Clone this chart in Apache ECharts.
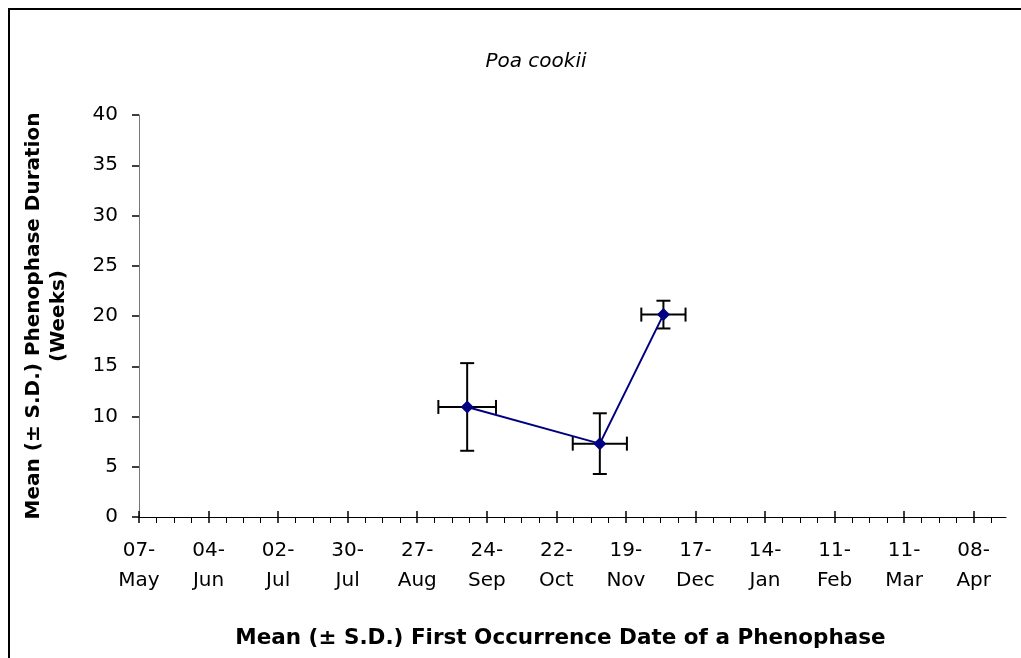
<!DOCTYPE html>
<html>
<head>
<meta charset="utf-8">
<title>Poa cookii</title>
<script src="https://cdn.jsdelivr.net/npm/echarts@6/dist/echarts.min.js"></script>
<style>
  html, body { margin: 0; padding: 0; background: #fff; }
  #chart { width: 1021px; height: 658px; }
</style>
</head>
<body>
<div id="chart"></div>
<script>
// tick labels, one every 28 days from 07-May
const xTickLabels = ['07-\nMay', '04-\nJun', '02-\nJul', '30-\nJul', '27-\nAug', '24-\nSep', '22-\nOct',
    '19-\nNov', '17-\nDec', '14-\nJan', '11-\nFeb', '11-\nMar', '08-\nApr'];
// mean first occurrence, in days after 07-May, and its S.D. (days)
const firstDay = [132.1, 185.5, 211.1];
const firstDaySd = [11.6, 10.9, 8.9];
// mean phenophase duration (weeks) and S.D.
const durationWeeks = [10.95, 7.3, 20.14];
const durationSd = [4.36, 3.02, 1.38];

const FONT = '"DejaVu Sans", Arial, sans-serif';
const DAY_STEP = 28;
const tickDays = xTickLabels.map((l, i) => i * DAY_STEP);

const chart = echarts.init(document.getElementById('chart'));

const points = firstDay.map((d, i) => [d, durationWeeks[i]]);
const errData = firstDay.map((d, i) => [d, durationWeeks[i], firstDaySd[i], durationSd[i]]);

function renderErr(params, api) {
    const x = api.value(0), y = api.value(1), sx = api.value(2), sy = api.value(3);
    const c = api.coord([x, y]);
    const top = api.coord([x, y + sy]);
    const bot = api.coord([x, y - sy]);
    const lft = api.coord([x - sx, y]);
    const rgt = api.coord([x + sx, y]);
    const cap = 7;
    const st = {stroke: '#000', lineWidth: 2};
    const ln = (x1, y1, x2, y2) => ({type: 'line', shape: {x1, y1, x2, y2}, style: st});
    return {
        type: 'group',
        children: [
            ln(c[0], top[1], c[0], bot[1]),
            ln(c[0] - cap, top[1], c[0] + cap, top[1]),
            ln(c[0] - cap, bot[1], c[0] + cap, bot[1]),
            ln(lft[0], c[1], rgt[0], c[1]),
            ln(lft[0], c[1] - cap, lft[0], c[1] + cap),
            ln(rgt[0], c[1] - cap, rgt[0], c[1] + cap)
        ]
    };
}

const xCommon = {
    type: 'value',
    min: 0,
    max: 349,
    interval: DAY_STEP,
    splitLine: {show: false}
};

chart.setOption({
    animation: false,
    title: {
        text: 'Poa cookii',
        left: 531,
        top: 47,
        textAlign: 'center',
        textStyle: {fontFamily: FONT, fontSize: 20, fontStyle: 'italic', fontWeight: 'normal', color: '#000'}
    },
    graphic: [{
        type: 'rect',
        shape: {x: 9, y: 9, width: 1100, height: 1000},
        style: {fill: 'none', stroke: '#000', lineWidth: 2},
        silent: true
    }],
    grid: {left: 139, right: 15, top: 115, bottom: 141},
    xAxis: [
        Object.assign({}, xCommon, {
            name: 'Mean (± S.D.) First Occurrence Date of a Phenophase',
            nameLocation: 'middle',
            nameGap: 110,
            nameTextStyle: {fontFamily: FONT, fontSize: 21.5, fontWeight: 'bold', color: '#000', padding: [0, 24, 0, 0]},
            axisLine: {lineStyle: {color: '#000', width: 1}},
            axisTick: {show: true, length: 6, customValues: tickDays, lineStyle: {color: '#000', width: 1.5}},
            minorTick: {show: true, splitNumber: 4, length: 6, lineStyle: {color: '#000', width: 1}},
            axisLabel: {
                fontFamily: FONT, fontSize: 20, color: '#000', lineHeight: 30, margin: 19,
                customValues: tickDays,
                formatter: v => xTickLabels[Math.round(v / DAY_STEP)] || ''
            }
        }),
        Object.assign({}, xCommon, {
            position: 'bottom',
            axisLine: {show: false},
            axisTick: {show: true, inside: true, length: 6, customValues: tickDays, lineStyle: {color: '#000', width: 1.5}},
            axisLabel: {show: false}
        })
    ],
    yAxis: {
        type: 'value',
        min: 0,
        max: 40,
        interval: 5,
        name: 'Mean (± S.D.) Phenophase Duration\n(Weeks)',
        nameLocation: 'middle',
        nameGap: 68,
        nameRotate: 90,
        nameTextStyle: {fontFamily: FONT, fontSize: 20, fontWeight: 'bold', color: '#000', lineHeight: 25},
        splitLine: {show: false},
        axisLine: {show: true, lineStyle: {color: '#777', width: 1}},
        axisTick: {show: true, length: 7, lineStyle: {color: '#000', width: 1.5}},
        axisLabel: {fontFamily: FONT, fontSize: 20, color: '#000', margin: 21}
    },
    series: [
        {
            type: 'custom',
            renderItem: renderErr,
            data: errData,
            z: 2
        },
        {
            type: 'line',
            data: points,
            symbol: 'diamond',
            symbolSize: 13,
            lineStyle: {color: '#000080', width: 2},
            itemStyle: {color: '#000080'},
            z: 3
        }
    ]
});
</script>
</body>
</html>
